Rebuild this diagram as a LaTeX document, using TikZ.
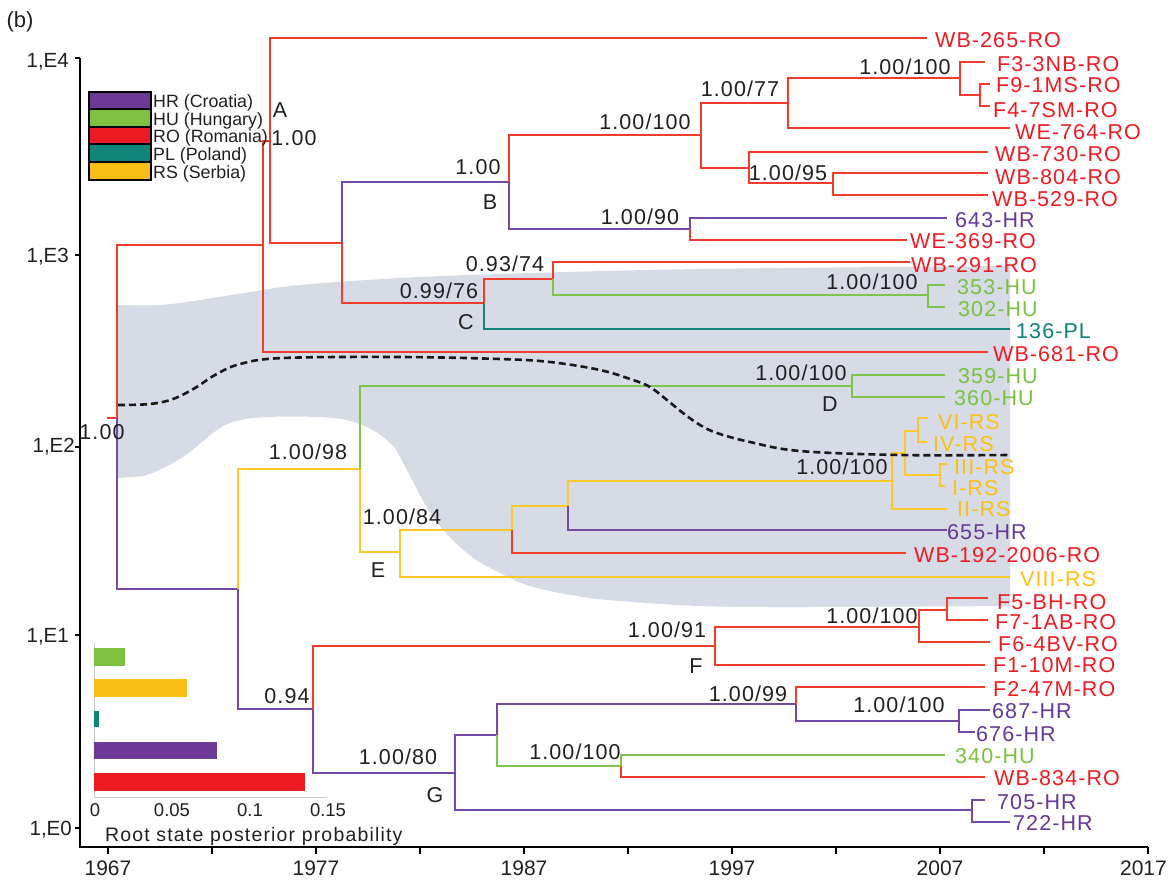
\documentclass[tikz,border=0pt]{standalone}
\usepackage{fontspec}
\setmainfont{Liberation Sans}
\newfontfamily\labfont{Liberation Sans}[LetterSpace=5]
\newfontfamily\capfont{Liberation Sans}[LetterSpace=6]
\definecolor{lred}{RGB}{240,60,45}
\definecolor{lpur}{RGB}{118,72,165}
\definecolor{lgrn}{RGB}{128,196,76}
\definecolor{lyel}{RGB}{253,200,40}
\definecolor{ltea}{RGB}{20,132,122}
\definecolor{tred}{RGB}{236,28,36}
\definecolor{tpur}{RGB}{102,56,150}
\definecolor{tgrn}{RGB}{122,193,66}
\definecolor{tyel}{RGB}{252,192,20}
\definecolor{ttea}{RGB}{14,130,118}
\definecolor{band}{RGB}{214,219,230}
\definecolor{ink}{RGB}{35,31,32}
\definecolor{barax}{RGB}{200,200,205}
\definecolor{cHR}{RGB}{107,57,150}
\definecolor{cHU}{RGB}{125,194,65}
\definecolor{cRO}{RGB}{237,28,36}
\definecolor{cPL}{RGB}{14,133,120}
\definecolor{cRS}{RGB}{251,190,22}
\tikzset{
  br/.style={line width=2.3pt},
  rb/.style={br, draw=lred},
  pb/.style={br, draw=lpur},
  gb/.style={br, draw=lgrn},
  yb/.style={br, draw=lyel},
  tb/.style={br, draw=ltea},
  tip/.style={anchor=west, inner sep=0pt, text height=15.4pt, text depth=0pt,
              font=\labfont\fontsize{21.5}{24}\selectfont},
  tR/.style={tip, text=tred},
  tP/.style={tip, text=tpur},
  tG/.style={tip, text=tgrn},
  tY/.style={tip, text=tyel},
  tT/.style={tip, text=ttea},
  sup/.style={inner sep=0pt, text height=15.4pt, text depth=0pt, text=ink,
              font=\labfont\fontsize{21.5}{24}\selectfont},
  axlab/.style={inner sep=0pt, text height=14.6pt, text depth=0pt, text=ink,
              font=\fontsize{20.5}{24}\selectfont},
  yearlab/.style={inner sep=0pt, text height=15pt, text depth=0pt, text=ink,
              font=\fontsize{21}{24}\selectfont},
  leglab/.style={anchor=west, inner sep=0pt, text height=12.7pt, text depth=0pt, text=ink,
              font=\fontsize{17.8}{20}\selectfont},
  legbox/.style={draw=black, line width=1.2pt},
  barlab/.style={inner sep=0pt, text height=13.3pt, text depth=0pt, text=ink,
              font=\fontsize{18.5}{22}\selectfont},
  axis/.style={line width=2.4pt, draw=black},
}
\begin{document}
\begin{tikzpicture}[x=1pt,y=-1pt]
\useasboundingbox (0,0) rectangle (1169,879);
% credible band
\fill[band] plot[smooth, tension=0.6] coordinates {(118,305) (160,305) (200,300) (250,292) (300,285) (400,278) (500,274) (700,269) (1010,266)}
  -- (1010,606) -- plot[smooth, tension=0.6] coordinates {(1010,606) (800,607) (700,606) (620,601) (583,597) (533,587) (500,573) (467,553) (433,517) (400,457) (390,443) (367,427) (333,418) (267,417) (233,422) (213,433) (183,457) (150,474) (133,477) (118,478)} -- cycle;

% axes
\draw[axis] (80,58) -- (80,847) -- (1148,847);
\foreach \yy in {58,255,447,635,828} \draw[axis] (75,\yy) -- (80,\yy);
\foreach \i in {0,...,10} \draw[axis] ({108+104*\i},847) -- ({108+104*\i},854);
\node[axlab, anchor=east] (yE4) at (69,60) {1,E4};
\node[axlab, anchor=east] (yE3) at (69,255) {1,E3};
\node[axlab, anchor=east] (yE2) at (75,445) {1,E2};
\node[axlab, anchor=east] (yE1) at (69,635) {1,E1};
\node[axlab, anchor=east] (yE0) at (72,828) {1,E0};
\node[yearlab] (x1967) at (108,868) {1967};
\node[yearlab] (x1977) at (316,868) {1977};
\node[yearlab] (x1987) at (524,868) {1987};
\node[yearlab] (x1997) at (732,868) {1997};
\node[yearlab] (x2007) at (940,868) {2007};
\node[yearlab, anchor=east] (x2017) at (1167,868) {2017};
\node[inner sep=0pt, text=ink, font=\fontsize{22}{24}\selectfont] (panel) at (20,22) {(b)};

% tree coordinates
\coordinate (r0) at (107,418);
\coordinate (r) at (117,418);
\coordinate (A) at (263,245);
\coordinate (A1) at (270,141);
\coordinate (N2) at (342,243);
\coordinate (B) at (509,182);
\coordinate (B1) at (701,135);
\coordinate (B11) at (788,103);
\coordinate (B111) at (960,78);
\coordinate (B1111) at (980,95);
\coordinate (B12) at (749,168);
\coordinate (B121) at (833,183);
\coordinate (B2) at (690,229);
\coordinate (C) at (484,303);
\coordinate (C1) at (553,279);
\coordinate (C11) at (928,295);
\coordinate (L) at (238,589);
\coordinate (E0) at (360,469);
\coordinate (D) at (852,386);
\coordinate (E) at (400,552);
\coordinate (E1) at (512,530);
\coordinate (E11) at (568,506);
\coordinate (E111) at (892,481);
\coordinate (E1111) at (905,453);
\coordinate (E11111) at (918,431);
\coordinate (E11112) at (940,475);
\coordinate (G0) at (313,709);
\coordinate (F) at (715,646);
\coordinate (F1) at (919,627);
\coordinate (F11) at (947,610);
\coordinate (G) at (455,773);
\coordinate (G1) at (497,735);
\coordinate (G11) at (796,704);
\coordinate (G111) at (959,721);
\coordinate (G12) at (621,766);
\coordinate (G2) at (972,810);
% tip ends
\coordinate (t265) at (927,38);
\coordinate (tF3) at (985,62);
\coordinate (tF9) at (990,84);
\coordinate (tF4) at (990,106);
\coordinate (t764) at (1010,128);
\coordinate (t730) at (988,152);
\coordinate (t804) at (988,173);
\coordinate (t529) at (988,195);
\coordinate (t643) at (947,218);
\coordinate (t369) at (907,240);
\coordinate (t291) at (910,262);
\coordinate (t353) at (945,285);
\coordinate (t302) at (945,307);
\coordinate (t136) at (1010,329);
\coordinate (t681) at (988,352);
\coordinate (t359) at (945,375);
\coordinate (t360) at (945,397);
\coordinate (tVI) at (928,418);
\coordinate (tIV) at (927,442);
\coordinate (tIII) at (947,464);
\coordinate (tI) at (945,486);
\coordinate (tII) at (947,509);
\coordinate (t655) at (947,530);
\coordinate (t192) at (906,553);
\coordinate (tVIII) at (1010,577);
\coordinate (tF5) at (988,598);
\coordinate (tF7) at (988,620);
\coordinate (tF6) at (990,642);
\coordinate (tF1) at (985,665);
\coordinate (tF2) at (985,687);
\coordinate (t687) at (990,710);
\coordinate (t676) at (975,732);
\coordinate (t340) at (945,755);
\coordinate (t834) at (985,777);
\coordinate (t705) at (985,800);
\coordinate (t722) at (1010,822);

% branches
\draw[rb] (r0) -- (r);
\draw[rb] (r) |- (A);
\draw[pb] (r) |- (L);
\draw[rb] (A) |- (A1);
\draw[rb] (A) |- (t681);
\draw[rb] (A1) |- (t265);
\draw[rb] (A1) |- (N2);
\draw[pb] (N2) |- (B);
\draw[rb] (N2) |- (C);
\draw[rb] (B) |- (B1);
\draw[pb] (B) |- (B2);
\draw[rb] (B1) |- (B11);
\draw[rb] (B1) |- (B12);
\draw[rb] (B11) |- (B111);
\draw[rb] (B11) |- (t764);
\draw[rb] (B111) |- (tF3);
\draw[rb] (B111) |- (B1111);
\draw[rb] (B1111) |- (tF9);
\draw[rb] (B1111) |- (tF4);
\draw[rb] (B12) |- (t730);
\draw[rb] (B12) |- (B121);
\draw[rb] (B121) |- (t804);
\draw[rb] (B121) |- (t529);
\draw[pb] (B2) |- (t643);
\draw[rb] (B2) |- (t369);
\draw[rb] (C) |- (C1);
\draw[tb] (C) |- (t136);
\draw[rb] (C1) |- (t291);
\draw[gb] (C1) |- (C11);
\draw[gb] (C11) |- (t353);
\draw[gb] (C11) |- (t302);
\draw[yb] (L) |- (E0);
\draw[pb] (L) |- (G0);
\draw[gb] (E0) |- (D);
\draw[yb] (E0) |- (E);
\draw[gb] (D) |- (t359);
\draw[gb] (D) |- (t360);
\draw[yb] (E) |- (E1);
\draw[yb] (E) |- (tVIII);
\draw[yb] (E1) |- (E11);
\draw[rb] (E1) |- (t192);
\draw[yb] (E11) |- (E111);
\draw[pb] (E11) |- (t655);
\draw[yb] (E111) |- (E1111);
\draw[yb] (E111) |- (tII);
\draw[yb] (E1111) |- (E11111);
\draw[yb] (E1111) |- (E11112);
\draw[yb] (E11111) |- (tVI);
\draw[yb] (E11111) |- (tIV);
\draw[yb] (E11112) |- (tIII);
\draw[yb] (E11112) |- (tI);
\draw[rb] (G0) |- (F);
\draw[pb] (G0) |- (G);
\draw[rb] (F) |- (F1);
\draw[rb] (F) |- (tF1);
\draw[rb] (F1) |- (F11);
\draw[rb] (F1) |- (tF6);
\draw[rb] (F11) |- (tF5);
\draw[rb] (F11) |- (tF7);
\draw[pb] (G) |- (G1);
\draw[pb] (G) |- (G2);
\draw[pb] (G1) |- (G11);
\draw[gb] (G1) |- (G12);
\draw[rb] (G11) |- (tF2);
\draw[pb] (G11) |- (G111);
\draw[pb] (G111) |- (t687);
\draw[pb] (G111) |- (t676);
\draw[gb] (G12) |- (t340);
\draw[rb] (G12) |- (t834);
\draw[pb] (G2) |- (t705);
\draw[pb] (G2) |- (t722);

% median line
\draw[line width=2.6pt, dash pattern=on 7pt off 4pt, black!90] plot[smooth, tension=0.6] coordinates {(118,405) (150,404) (173,399) (195,388) (215,375) (240,364) (283,358) (400,357) (500,359) (550,362) (600,370) (633,380) (650,387) (667,400) (683,413) (700,425) (717,433) (750,442) (800,451) (900,455) (1008,455)};

% tip labels
\node[tR] (l265) at (935,40) {WB-265-RO};
\node[tR] (lF3) at (997,64) {F3-3NB-RO};
\node[tR] (lF9) at (996,85) {F9-1MS-RO};
\node[tR] (lF4) at (993,110) {F4-7SM-RO};
\node[tR] (l764) at (1015,132) {WE-764-RO};
\node[tR] (l730) at (995,154) {WB-730-RO};
\node[tR] (l804) at (995,177) {WB-804-RO};
\node[tR] (l529) at (992,199) {WB-529-RO};
\node[tP] (l643) at (955,220) {643-HR};
\node[tR] (l369) at (910,241) {WE-369-RO};
\node[tR] (l291) at (911,265) {WB-291-RO};
\node[tG] (l353) at (957,287) {353-HU};
\node[tG] (l302) at (958,309) {302-HU};
\node[tT] (l136) at (1016,331) {136-PL};
\node[tR] (l681) at (993,354) {WB-681-RO};
\node[tG] (l359) at (958,376) {359-HU};
\node[tG] (l360) at (954,398) {360-HU};
\node[tY] (lVI) at (938,422) {VI-RS};
\node[tY] (lIV) at (933,444) {IV-RS};
\node[tY] (lIII) at (954,467) {III-RS};
\node[tY] (lI) at (952,488) {I-RS};
\node[tY] (lII) at (957,509) {II-RS};
\node[tP] (l655) at (947,532) {655-HR};
\node[tR] (l192) at (914,555) {WB-192-2006-RO};
\node[tY] (lVIII) at (1020,579) {VIII-RS};
\node[tR] (lF5) at (997,602) {F5-BH-RO};
\node[tR] (lF7) at (995,622) {F7-1AB-RO};
\node[tR] (lF6) at (998,644) {F6-4BV-RO};
\node[tR] (lF1) at (993,665) {F1-10M-RO};
\node[tR] (lF2) at (993,689) {F2-47M-RO};
\node[tP] (l687) at (992,711) {687-HR};
\node[tP] (l676) at (976,734) {676-HR};
\node[tG] (l340) at (955,756) {340-HU};
\node[tR] (l834) at (994,778) {WB-834-RO};
\node[tP] (l705) at (997,802) {705-HR};
\node[tP] (l722) at (1013,823) {722-HR};

% support values and clade letters
\node[sup] (sA) at (294,138) {1.00};
\node[sup] (cA) at (280,110) {A};
\node[sup] (sB) at (478,167) {1.00};
\node[sup] (cB) at (490,202) {B};
\node[sup] (sB1) at (645,122) {1.00/100};
\node[sup] (sB11) at (740,89) {1.00/77};
\node[sup] (sB111) at (905,67) {1.00/100};
\node[sup] (sB12) at (788,173) {1.00/95};
\node[sup] (sB2) at (640,217) {1.00/90};
\node[sup] (sC1) at (505,264) {0.93/74};
\node[sup] (sC) at (439,291) {0.99/76};
\node[sup] (cC) at (466,322) {C};
\node[sup] (sC11) at (872,282) {1.00/100};
\node[sup] (sD) at (801,373) {1.00/100};
\node[sup] (cD) at (830,404) {D};
\node[sup] (sE0) at (308,452) {1.00/98};
\node[sup] (sE) at (402,517) {1.00/84};
\node[sup] (cE) at (378,570) {E};
\node[sup] (sE111) at (842,467) {1.00/100};
\node[sup] (sG0) at (287,696) {0.94};
\node[sup] (sF) at (667,630) {1.00/91};
\node[sup] (cF) at (696,666) {F};
\node[sup] (sF1) at (872,616) {1.00/100};
\node[sup] (sG11) at (748,694) {1.00/99};
\node[sup] (sG111) at (899,705) {1.00/100};
\node[sup] (sG12) at (575,752) {1.00/100};
\node[sup] (sG) at (398,757) {1.00/80};
\node[sup] (cG) at (435,795) {G};
\node[sup] (sR) at (102,432) {1.00};

% legend
\path[legbox, fill=cHR] (89,92) rectangle (151,109);
\path[legbox, fill=cHU] (89,109) rectangle (151,127);
\path[legbox, fill=cRO] (89,127) rectangle (151,144);
\path[legbox, fill=cPL] (89,144) rectangle (151,162);
\path[legbox, fill=cRS] (89,162) rectangle (151,180);
\node[leglab] (gHR) at (153,101) {HR (Croatia)};
\node[leglab] (gHU) at (153,119) {HU (Hungary)};
\node[leglab] (gRO) at (153,136) {RO (Romania)};
\node[leglab] (gPL) at (153,154) {PL (Poland)};
\node[leglab] (gRS) at (153,172) {RS (Serbia)};

% root state bar chart
\draw[barax, line width=1pt] (94,643) -- (94,797) -- (327,797);
\fill[cHU] (94,648) rectangle (125,666);
\fill[cRS] (94,679) rectangle (187,697);
\fill[cPL] (94,711) rectangle (99,727);
\fill[cHR] (94,742) rectangle (217,759);
\fill[cRO] (94,773) rectangle (305,791);
\node[barlab] (b0) at (95,810) {0};
\node[barlab] (b1) at (172,810) {0.05};
\node[barlab] (b2) at (250,810) {0.1};
\node[barlab] (b3) at (328,810) {0.15};
\node[anchor=west, inner sep=0pt, text height=14pt, text depth=0pt, text=ink, font=\capfont\fontsize{19.5}{22}\selectfont] (rootcap) at (105,834) {Root state posterior probability};
\end{tikzpicture}
\end{document}
